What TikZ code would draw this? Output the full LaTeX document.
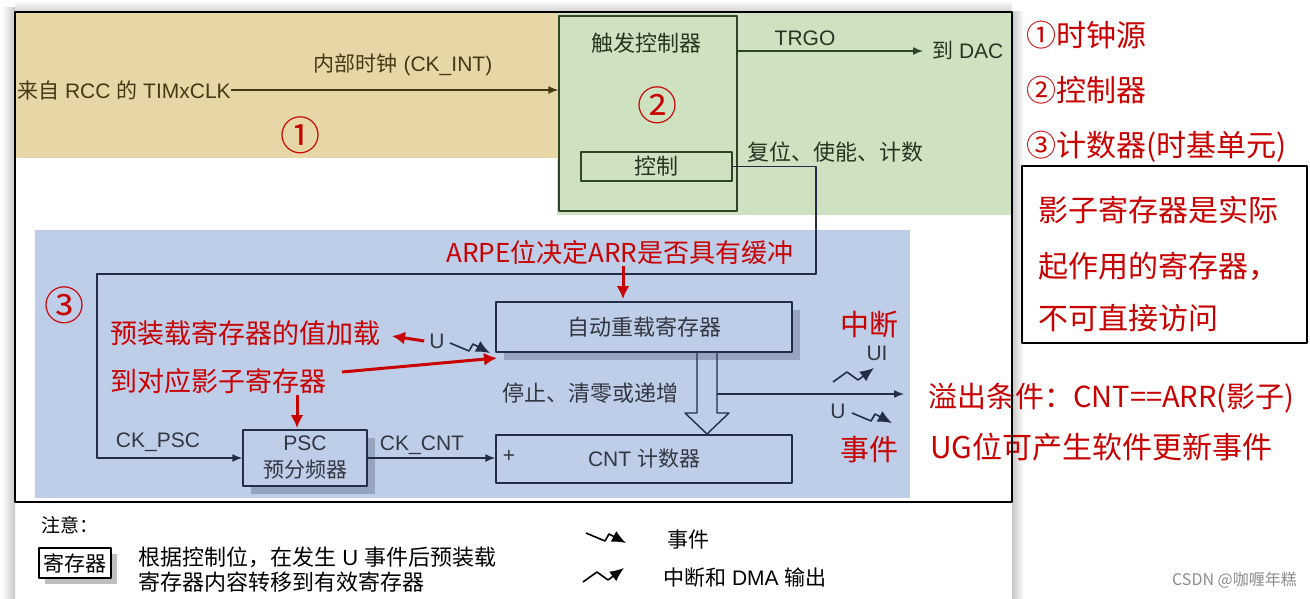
\documentclass[tikz,border=0pt]{standalone}
\usepackage{fontspec}
\setmainfont{Liberation Sans}
\newfontfamily\cjk{Noto Sans CJK SC}
\usepackage{tikz}
\usetikzlibrary{arrows.meta,shadows}
\newcommand\zh[1]{{\cjk #1}}
\newcommand\fsz[1]{\fontsize{#1}{#1}\selectfont}
\definecolor{clktan}{RGB}{232,215,166}
\definecolor{ctrlgreen}{RGB}{206,225,193}
\definecolor{cntblue}{RGB}{190,205,232}
\definecolor{shgray}{RGB}{150,163,193}
\definecolor{brownc}{RGB}{70,56,20}
\definecolor{greenc}{RGB}{45,68,40}
\definecolor{navyc}{RGB}{35,45,70}
\definecolor{textc}{RGB}{50,55,65}
\definecolor{redc}{RGB}{200,0,0}
\tikzset{
  lbl/.style={inner sep=0pt,text=textc,font=\fsz{21}},
  redlbl/.style={inner sep=0pt,text=redc,font=\cjk\fsz{27}},
  bignum/.style={inner sep=0pt,text=redc,font=\cjk\fsz{40}},
  navybox/.style={draw=navyc,line width=1.4pt,inner sep=0pt,fill=cntblue,text=textc,font=\cjk\fsz{22}},
  shbox/.style={navybox,drop shadow={shadow xshift=8pt,shadow yshift=-8pt,fill=shgray,opacity=1}},
  darr/.style={-{Latex[length=10pt,width=8pt]},line width=1.4pt},
  redarr/.style={-{Latex[length=13pt,width=13pt]},line width=3pt,draw=redc},
  evt/.pic={\draw[-{Latex[length=14pt,width=12pt]},line width=1.6pt] (0,0) -- (19,8) -- (23,1) -- (40,10);},
  irq/.pic={\draw[-{Latex[length=14pt,width=12pt]},line width=1.6pt] (0,0) -- (14,-10) -- (25,-2) -- (41,-14);}
}
\begin{document}
\begin{tikzpicture}[x=1pt,y=-1pt,line join=round]
\useasboundingbox (0,0) rectangle (1310,599);
\fill[white] (0,0) rectangle (1310,599);
% screenshot edge
\shade[left color=white,right color=black!22] (2,8) rectangle (15,599);
\shade[top color=white,bottom color=black!18] (15,0) rectangle (1012,12);
\shade[left color=black!22,right color=white] (1012,12) rectangle (1024,599);
% the three parts
\fill[clktan] (15,12) rectangle (557,158);
\fill[ctrlgreen] (557,12) rectangle (1012,215);
\fill[cntblue] (35,230) rectangle (910,498);

% (1) clock source
\node[lbl,text=brownc,anchor=west] (rcc) at (17,90) {\zh{来自} RCC \zh{的} TIMxCLK};
\node[lbl,text=brownc] (ckint) at (403,65) {\zh{内部时钟} (CK\_INT)};
\node[bignum] (n1) at (300,135) {①};

% (2) controller
\node[draw=greenc,line width=1.4pt,minimum width=178,minimum height=195,inner sep=0pt] (trig) at (648,113.5) {};
\node[lbl,text=greenc!80!black,font=\cjk\fsz{22}] (trigt) at (646,43) {触发控制器};
\node[bignum] (n2) at (657,105) {②};
\node[draw=greenc,line width=1.4pt,minimum width=151,minimum height=29,inner sep=0pt,text=greenc!80!black,font=\cjk\fsz{22}] (ctl) at (656.5,166.5) {控制};
\node[lbl,text=greenc!80!black,anchor=west] (dac) at (932,50) {\zh{到} DAC};
\node[lbl,text=greenc!80!black] (trgo) at (805,38) {TRGO};
\node[lbl,text=greenc!80!black,anchor=west,font=\cjk\fsz{22}] (rst) at (747,152) {复位、使能、计数};
\draw[darr,brownc] (rcc.east) -- (rcc.east -| trig.west);
\draw[darr,greenc] (trig.east |- 0,51) -- (923,51);

% (3) time base unit
\node[bignum] (n3) at (65,305) {③};
\node[shbox,minimum width=296,minimum height=50] (arr) at (644,327) {自动重载寄存器};
\node[navybox,minimum width=296,minimum height=48,font=\fsz{21}] (cnt) at (644,459) {CNT \zh{计数器}};
\node[lbl] (plus) at (509,456) {+};
\node[shbox,minimum width=124,minimum height=56,align=center,font=\fontsize{21}{27}\selectfont] (psc) at (305,458) {PSC\\\zh{预分频器}};
\node[lbl] (ckpsc) at (158,442) {CK\_PSC};
\node[lbl] (ckcnt) at (422,445) {CK\_CNT};
\node[lbl,font=\cjk\fsz{22}] (stop) at (590,393) {停止、清零或递增};
\coordinate (loopR) at (816,274);
\coordinate (loopL) at (97,274);
\draw[darr,navyc] (ctl.east) -| (loopR) -- (loopL) |- (psc.west);
\draw[darr,navyc] (psc.east) -- (psc.east -| cnt.west);
\draw[navyc,line width=1.4pt] (697,352) -- (697,413) -- (685,413) -- (707,434) -- (729,413) -- (717,413) -- (717,352);
\coordinate (ovf) at (717,394);
\draw[darr,navyc] (ovf) -- (904,394);
\node[lbl] (ui) at (877,353) {UI};
\pic[navyc] at (833,382) {irq};
\node[lbl] (uev) at (838,411) {U};
\pic[navyc] at (852,413) {evt};
\node[lbl] (uload) at (437,341) {U};
\pic[navyc] at (450,343) {evt};

% red notes
\node[redlbl,font=\cjk\fsz{26}] (arpe) at (620,253) {ARPE位决定ARR是否具有缓冲};
\node[redlbl,anchor=west] (preload) at (110,333) {预装载寄存器的值加载};
\node[redlbl,anchor=west] (shadow) at (110,381) {到对应影子寄存器};
\node[redlbl,font=\cjk\fsz{29}] (irqt) at (869,325) {中断};
\node[redlbl,font=\cjk\fsz{29}] (evtt) at (869,450) {事件};
\draw[redarr] (623,266) -- (623,299);
\draw[redarr] ([xshift=-5pt]uload.west) -- (392,336);
\draw[redarr] (342,372) -- (497,358);
\draw[redarr] (297,395) -- (297,428);

\node[redlbl,anchor=west,font=\cjk\fsz{30}] (src) at (1026,35) {①时钟源};
\node[redlbl,anchor=west,font=\cjk\fsz{30}] (ctr) at (1026,90) {②控制器};
\node[redlbl,anchor=west,font=\cjk\fsz{30}] (tbu) at (1026,147) {③计数器(时基单元)};
\draw[line width=1.5pt] (1022,166) rectangle (1307,343);
\node[redlbl,anchor=west,font=\cjk\fsz{30}] (sh1) at (1038,210) {影子寄存器是实际};
\node[redlbl,anchor=west,font=\cjk\fsz{30}] (sh2) at (1038,266) {起作用的寄存器，};
\node[redlbl,anchor=west,font=\cjk\fsz{30}] (sh3) at (1038,318) {不可直接访问};
\node[redlbl,anchor=west,font=\cjk\fsz{29}] (ovft) at (928,398) {溢出条件：CNT==ARR(影子)};
\node[redlbl,anchor=west,font=\cjk\fsz{30}] (ugt) at (930,447) {UG位可产生软件更新事件};

\draw[line width=1.5pt] (15,12) rectangle (1012,502);

% legend
\node[inner sep=0pt,anchor=west,font=\cjk\fsz{19}] (note) at (41,525) {注意：};
\node[draw,line width=1.3pt,fill=white,minimum width=72,minimum height=30,inner sep=0pt,font=\cjk\fsz{21},
  drop shadow={shadow xshift=6pt,shadow yshift=-6pt,fill=black!25,opacity=1}] (reg) at (75,563) {寄存器};
\node[inner sep=0pt,anchor=west,font=\fsz{22}] (leg1) at (138,557) {\zh{根据控制位，在发生} U \zh{事件后预装载}};
\node[inner sep=0pt,anchor=west,font=\cjk\fsz{22}] (leg2) at (138,582) {寄存器内容转移到有效寄存器};
\pic at (586,533) {evt};
\node[inner sep=0pt,anchor=west,font=\cjk\fsz{21}] (legevt) at (667,540) {事件};
\pic at (583,582) {irq};
\node[inner sep=0pt,anchor=west,font=\fsz{21}] (legirq) at (663,578) {\zh{中断和} DMA \zh{输出}};
\node[inner sep=0pt,anchor=east,text=black!45,font=\cjk\fsz{16}] (csdn) at (1297,580) {CSDN @咖喱年糕};
\end{tikzpicture}
\end{document}
